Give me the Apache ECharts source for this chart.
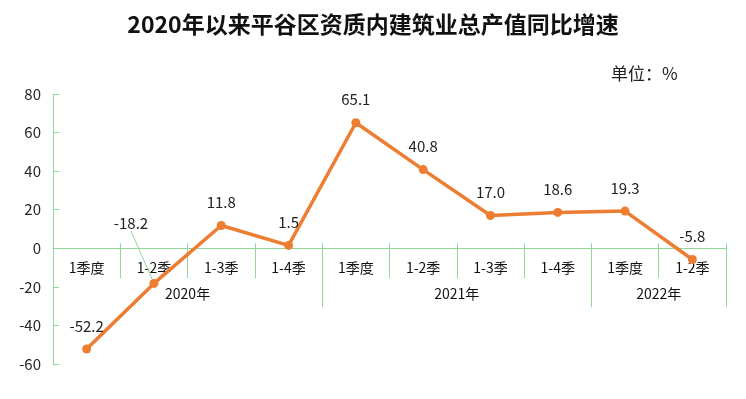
<!DOCTYPE html>
<html>
<head>
    <meta charset="utf-8">
    <title>ECharts</title>
    <script src="https://cdn.jsdelivr.net/npm/echarts@6/dist/echarts.min.js"></script>
    <style>
        html, body { margin: 0; padding: 0; background: #fff; }
    </style>
</head>
<body>
    <div id="main" style="width: 746px;height:399px;"></div>
    <script type="text/javascript">
        // 季度分类
        var quarters = ['1季度', '1-2季', '1-3季', '1-4季', '1季度', '1-2季', '1-3季', '1-4季', '1季度', '1-2季'];
        // 同比增速 (%)
        var growth = [-52.2, -18.2, 11.8, 1.5, 65.1, 40.8, 17.0, 18.6, 19.3, -5.8];
        // 年份分组：名称、起始位置、结束位置（按季度序号）
        var years = ['2020年', '2021年', '2022年'];
        var yearStart = [0, 4, 8];
        var yearEnd = [4, 8, 10];
        var yTicks = [-60, -40, -20, 0, 20, 40, 60, 80];
        var yMin = -60, yMax = 80;

        var green = '#92D69A';
        var orange = '#ED7D31';
        var font = "'Noto Sans CJK SC', 'Noto Sans', sans-serif";

        var gridTop = 94, gridBottom = 35, H = 399;
        // 横轴放在 0 值处：从底部向上偏移
        var plotH = H - gridTop - gridBottom;
        var zeroOffset = -plotH * (0 - yMin) / (yMax - yMin);

        var groupTicks = [0];
        var groupLabels = [];
        var yearByCenter = {};
        for (var i = 0; i < years.length; i++) {
            groupTicks.push(yearEnd[i]);
            var c = (yearStart[i] + yearEnd[i]) / 2;
            groupLabels.push(c);
            yearByCenter[c] = years[i];
        }

        var chart = echarts.init(document.getElementById('main'));
        var option = {
            animation: false,
            title: [{
                text: '2020年以来平谷区资质内建筑业总产值同比增速',
                left: 'center',
                top: 8,
                textStyle: { fontFamily: font, fontSize: 23, fontWeight: 'bold', color: '#111' }
            }, {
                text: '单位：%',
                left: 606,
                top: 60,
                textStyle: { fontFamily: font, fontSize: 17, fontWeight: 'normal', color: '#222' }
            }],
            grid: { left: 53, right: 20, top: gridTop, bottom: gridBottom, containLabel: false, outerBoundsMode: 'none' },
            xAxis: [{
                type: 'category',
                data: quarters,
                boundaryGap: true,
                position: 'bottom',
                offset: zeroOffset,
                axisLine: { onZero: false, lineStyle: { color: green, width: 1 } },
                axisTick: { show: true, length: 30, lineStyle: { color: green } },
                axisLabel: { margin: 12, fontSize: 14, fontFamily: font, color: '#111' }
            }, {
                type: 'category',
                data: quarters,
                position: 'bottom',
                offset: zeroOffset,
                boundaryGap: true,
                axisLine: { show: false, onZero: false },
                axisTick: { show: true, inside: true, length: 5, lineStyle: { color: green } },
                axisLabel: { show: false }
            }, {
                type: 'value',
                min: 0,
                max: quarters.length,
                position: 'bottom',
                offset: zeroOffset,
                splitLine: { show: false },
                axisLine: { show: false, onZero: false },
                axisTick: { show: true, length: 59, customValues: groupTicks, lineStyle: { color: green } },
                axisLabel: {
                    customValues: groupLabels,
                    margin: 38,
                    fontSize: 14,
                    fontFamily: font,
                    color: '#111',
                    formatter: function (v) { return yearByCenter[v] || ''; }
                }
            }],
            yAxis: {
                type: 'value',
                min: yMin,
                max: yMax,
                interval: 20,
                splitLine: { show: false },
                axisLine: { show: true, lineStyle: { color: green } },
                axisTick: { show: true, inside: true, length: 6, customValues: yTicks, lineStyle: { color: green } },
                axisLabel: { margin: 12, fontSize: 15, fontFamily: font, color: '#262626' }
            },
            series: [{
                type: 'line',
                xAxisIndex: 0,
                data: growth.map(function (v, i) {
                    // -18.2 的标签带引导线
                    if (i === 1) {
                        return { value: v, labelLine: { show: true, lineStyle: { color: green, width: 1 } } };
                    }
                    return v;
                }),
                symbol: 'circle',
                symbolSize: 9,
                itemStyle: { color: orange },
                lineStyle: { color: orange, width: 3.5 },
                label: {
                    show: true,
                    position: 'top',
                    distance: 11,
                    fontSize: 15,
                    fontFamily: font,
                    color: '#222',
                    formatter: function (p) { return p.value.toFixed(1); }
                },
                labelLayout: function (p) {
                    if (p.dataIndex === 1) {
                        return { dx: -23, dy: -37 };
                    }
                    return {};
                },
                labelLine: { show: false },
                emphasis: { disabled: true }
            }]
        };
        chart.setOption(option);
    </script>
</body>
</html>
